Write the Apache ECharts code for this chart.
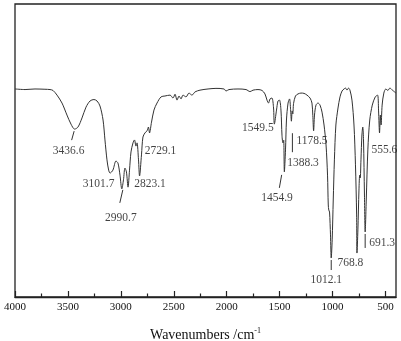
<!DOCTYPE html>
<html>
<head>
<meta charset="utf-8">
<script src="https://cdn.jsdelivr.net/npm/echarts@6/dist/echarts.min.js"></script>
<style>html,body{margin:0;padding:0;background:#fff;}#c{width:401px;height:341px;}</style>
</head>
<body>
<div id="c"></div>
<script>
// Wavenumber (cm-1) and relative transmittance
const wavenumbers = [4000,3905,3811,3717,3669,3641,3603,3556,3509,3471,3436.6,3405,3367,3329,3291,3254,3225,3197,3168,3150,3131,3115,3101.7,3075,3046,3027,3008,2990.7,2975,2961,2947,2932,2918,2904,2885,2871,2857,2847,2833,2823.1,2805,2791,2772,2753,2739,2729.1,2710,2687,2658,2620,2583,2535,2507,2488,2469,2450,2431,2413,2384,2356,2328,2299,2252,2176,2101,2025,2006,1978,1893,1817,1779,1751,1704,1666,1638,1619,1605,1590,1572,1557,1549.5,1529,1515,1501,1487,1477,1468,1461,1454.9,1444,1435,1420,1406,1396,1388.3,1381,1375,1368,1350,1326,1298,1269,1241,1212,1194,1186,1178.5,1170,1156,1137,1118,1099,1080,1061,1047,1040,1035,1028,1019,1012.1,1003,993,982,968,948,929,910,891,877,863,849,835,816,797,783,772,768.8,760,750,743,738,731,722,714,707,698,691.3,681,666,648,624,596,574,565,555.6,548,541,531,515,496,477,458,434,400];
const transmittance = [71.0,70.8,71.0,70.9,70.8,70.5,68.9,66.2,62.1,59.0,57.3,58.0,61.1,64.8,66.9,67.4,66.9,65.2,60.4,53.6,46.8,43.3,42.3,43.3,46.4,45.7,41.6,36.9,40.0,44.0,42.7,37.5,43.3,49.5,52.6,53.6,51.5,52.6,46.8,41.3,48.5,54.6,56.0,56.7,58.0,56.0,59.7,63.8,66.2,68.3,68.6,68.9,67.9,69.2,67.2,68.6,67.6,68.9,68.3,69.6,68.9,70.0,70.6,71.0,71.2,71.0,70.3,70.8,71.0,70.8,70.1,70.6,70.8,70.5,69.3,67.2,66.2,67.6,67.9,64.5,59.0,63.8,66.9,67.2,63.8,55.0,52.6,53.5,42.7,50.2,60.4,66.2,67.6,64.0,60.0,63.5,62.5,66.0,68.6,69.3,69.6,69.5,68.9,67.9,66.2,62.0,56.7,62.1,65.5,66.2,65.5,63.1,58.7,51.9,41.6,31.4,29.7,29.0,21.2,13.3,19.5,33.1,46.8,58.7,64.5,68.3,70.3,71.0,71.3,70.6,71.3,70.6,67.2,58.7,45.1,28.0,15.0,22.9,36.5,41.6,40.6,46.8,55.3,58.0,53.6,34.8,22.2,33.1,50.2,60.4,65.5,68.3,68.9,63.8,56.0,62.1,58.7,65.5,69.6,71.0,70.5,71.3,70.6,69.6];
const peakWavenumbers = [3436.6,3101.7,2990.7,2823.1,2729.1,1549.5,1454.9,1388.3,1178.5,1012.1,768.8,691.3,555.6];
const peakLabels = ['3436.6','3101.7','2990.7','2823.1','2729.1','1549.5','1454.9','1388.3','1178.5','1012.1','768.8','691.3','555.6'];
const majorTicks = [4000,3500,3000,2500,2000,1500,1000,500];
const minorTicks = [3750,3250,2750,2250,1750,1250,750];

// styling: label offsets (px) and leader lines (px, relative to the peak)
const labelOffsets = {
  '3436.6':[-6,22],'3101.7':[-11.5,11],'2990.7':[-1,29],'2823.1':[10.5,8],'2729.1':[11,18],
  '1549.5':[-16.5,4],'1454.9':[-7.4,25.7],'1388.3':[11.6,41.7],'1178.5':[-1.6,9.7],
  '1012.1':[-5,22],'768.8':[-6.6,9.7],'691.3':[17,11.3],'555.6':[4.8,17]
};
const leaders = {
  '3436.6':[[-3,11],[-0.5,2]],'2990.7':[[-2,14],[1,1]],'1454.9':[[-5,16],[-2.7,3]],
  '1388.3':[[1,12],[1,31]],'1012.1':[[0,2],[0,12]],'691.3':[[0,2],[0,16]]
};

const spectrum = wavenumbers.map((w,i)=>[w, transmittance[i]]);
function tAt(w){
  let best=0, bd=Infinity;
  wavenumbers.forEach((x,i)=>{const d=Math.abs(x-w); if(d<bd){bd=d;best=i;}});
  return transmittance[best];
}
const peaks = peakWavenumbers.map((w,i)=>({
  value:[w, tAt(w)], name: peakLabels[i],
  label:{offset: labelOffsets[peakLabels[i]]}
}));

const font = 'Liberation Serif, Times New Roman, serif';
const chart = echarts.init(document.getElementById('c'), null, {renderer:'canvas'});
chart.setOption({
  animation:false,
  backgroundColor:'#fff',
  grid:{left:15, right:5, top:4, bottom:44, outerBoundsMode:'none', containLabel:false, show:true, borderColor:'#222', borderWidth:1.3, backgroundColor:'transparent'},
  xAxis:[{
    type:'value', min:400, max:4000, inverse:true, position:'bottom',
    axisLine:{show:true, lineStyle:{color:'#222', width:1.3}},
    axisTick:{show:true, inside:true, length:6, customValues:majorTicks, lineStyle:{color:'#222', width:1.2}},
    axisLabel:{show:true, customValues:majorTicks, margin:5, color:'#111', fontFamily:font, fontSize:11, formatter:v=>String(v)},
    splitLine:{show:false},
    name:'{a|Wavenumbers /cm}{b|-1}', nameLocation:'middle', nameGap:30,
    nameTextStyle:{color:'#111', fontFamily:font, fontSize:14,
      rich:{a:{fontFamily:font, fontSize:14, color:'#111'}, b:{fontFamily:font, fontSize:8, color:'#111', verticalAlign:'top', padding:[0,0,8,0]}}}
  },{
    type:'value', min:400, max:4000, inverse:true, position:'bottom',
    axisLine:{show:false},
    axisTick:{show:true, inside:true, length:3.5, customValues:minorTicks, lineStyle:{color:'#222', width:1.2}},
    axisLabel:{show:false}, splitLine:{show:false}
  }],
  yAxis:{type:'value', min:0, max:100, show:false},
  series:[{
    type:'line', data:spectrum, xAxisIndex:0, showSymbol:false, smooth:0.3,
    lineStyle:{color:'#333', width:1}, silent:true
  },{
    type:'scatter', data:peaks, xAxisIndex:0, symbolSize:0, silent:true,
    label:{show:true, position:'inside', formatter:p=>p.name, color:'#111', fontFamily:font, fontSize:11.5, align:'center', verticalAlign:'middle'}
  }]
});

const g = [];
Object.keys(leaders).forEach(k=>{
  const w = peakWavenumbers[peakLabels.indexOf(k)];
  const p = chart.convertToPixel({seriesIndex:0}, [w, tAt(w)]);
  const [a,b] = leaders[k];
  g.push({type:'line', shape:{x1:p[0]+a[0], y1:p[1]+a[1], x2:p[0]+b[0], y2:p[1]+b[1]}, style:{stroke:'#333', lineWidth:1}, silent:true});
});
chart.setOption({graphic:g});
</script>
</body>
</html>
